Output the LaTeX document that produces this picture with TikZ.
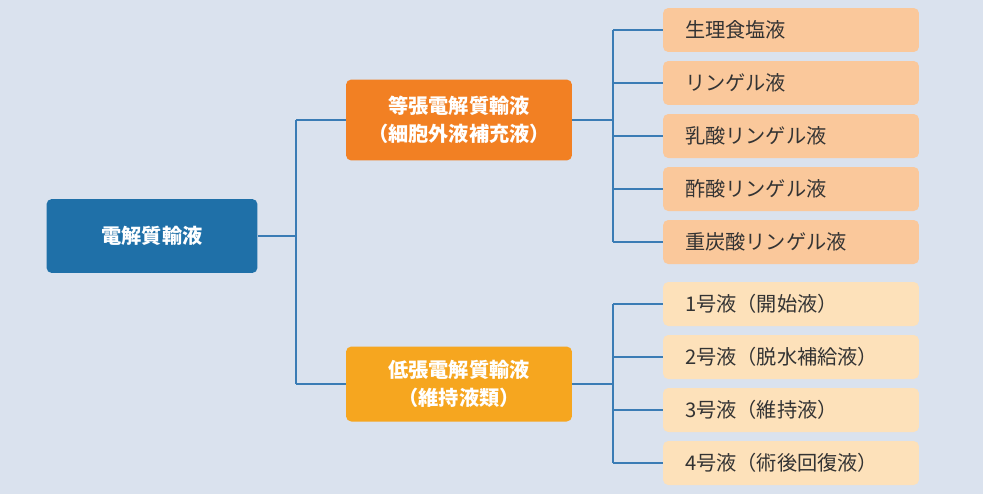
\documentclass[tikz,border=0pt]{standalone}
\usepackage{fontspec}
\setmainfont{Noto Sans CJK JP}
\usetikzlibrary{positioning}
\definecolor{bgblue}{HTML}{DAE2EE}
\definecolor{rootblue}{HTML}{1F70A8}
\definecolor{isoorange}{HTML}{F28023}
\definecolor{hypoyellow}{HTML}{F6A61F}
\definecolor{isoleaf}{HTML}{FAC89B}
\definecolor{hypoleaf}{HTML}{FDE1BA}
\definecolor{linkblue}{HTML}{3A7CB5}
\definecolor{leaftext}{HTML}{333333}
\tikzset{
  mainbox/.style={rounded corners=3pt, minimum width=4.22cm, minimum height=1.55cm,
    align=center, text=white, font=\fontsize{11.5}{16}\selectfont\bfseries},
  leafbox/.style={rounded corners=3pt, minimum width=5.12cm, minimum height=0.88cm,
    inner xsep=0.44cm, text width=4.24cm, align=left, text=leaftext,
    font=\fontsize{11.5}{14}\selectfont},
  link/.style={draw=linkblue, line width=0.6pt}
}
\begin{document}
\begin{tikzpicture}[x=0.02cm,y=-0.02cm]
  % background
  \fill[bgblue] (0,0) rectangle (983,494);

  % main boxes
  \node[mainbox, fill=rootblue, minimum width=4.22cm, minimum height=1.48cm] (root) at (152,236) {電解質輸液};
  \node[mainbox, fill=isoorange, minimum width=4.52cm, minimum height=1.62cm] (iso) at (459,120) {等張電解質輸液\\（細胞外液補充液）};
  \node[mainbox, fill=hypoyellow, minimum width=4.52cm, minimum height=1.50cm] (hypo) at (459,384) {低張電解質輸液\\（維持液類）};

  % leaves
  \node[leafbox, fill=isoleaf] (iso1) at (791,30) {生理食塩液};
  \node[leafbox, fill=isoleaf] (iso2) at (791,83) {リンゲル液};
  \node[leafbox, fill=isoleaf] (iso3) at (791,136) {乳酸リンゲル液};
  \node[leafbox, fill=isoleaf] (iso4) at (791,189) {酢酸リンゲル液};
  \node[leafbox, fill=isoleaf] (iso5) at (791,242) {重炭酸リンゲル液};
  \node[leafbox, fill=hypoleaf] (hypo1) at (791,304) {1号液（開始液）};
  \node[leafbox, fill=hypoleaf] (hypo2) at (791,357) {2号液（脱水補給液）};
  \node[leafbox, fill=hypoleaf] (hypo3) at (791,410) {3号液（維持液）};
  \node[leafbox, fill=hypoleaf] (hypo4) at (791,463) {4号液（術後回復液）};

  % connectors
  \coordinate (rootfork) at (296,236);
  \draw[link] (root.east) -- (rootfork);
  \draw[link] (rootfork |- iso.west) -- (iso.west);
  \draw[link] (rootfork |- hypo.west) -- (hypo.west);
  \draw[link] (rootfork |- iso.west) -- (rootfork |- hypo.west);

  \coordinate (isofork) at (613,120);
  \draw[link] (iso.east) -- (isofork);
  \draw[link] (isofork |- iso1.west) -- (isofork |- iso5.west);
  \foreach \leaf in {iso1,iso2,iso3,iso4,iso5}
    \draw[link] (isofork |- \leaf.west) -- (\leaf.west);

  \coordinate (hypofork) at (613,384);
  \draw[link] (hypo.east) -- (hypofork);
  \draw[link] (hypofork |- hypo1.west) -- (hypofork |- hypo4.west);
  \foreach \leaf in {hypo1,hypo2,hypo3,hypo4}
    \draw[link] (hypofork |- \leaf.west) -- (\leaf.west);
\end{tikzpicture}
\end{document}
